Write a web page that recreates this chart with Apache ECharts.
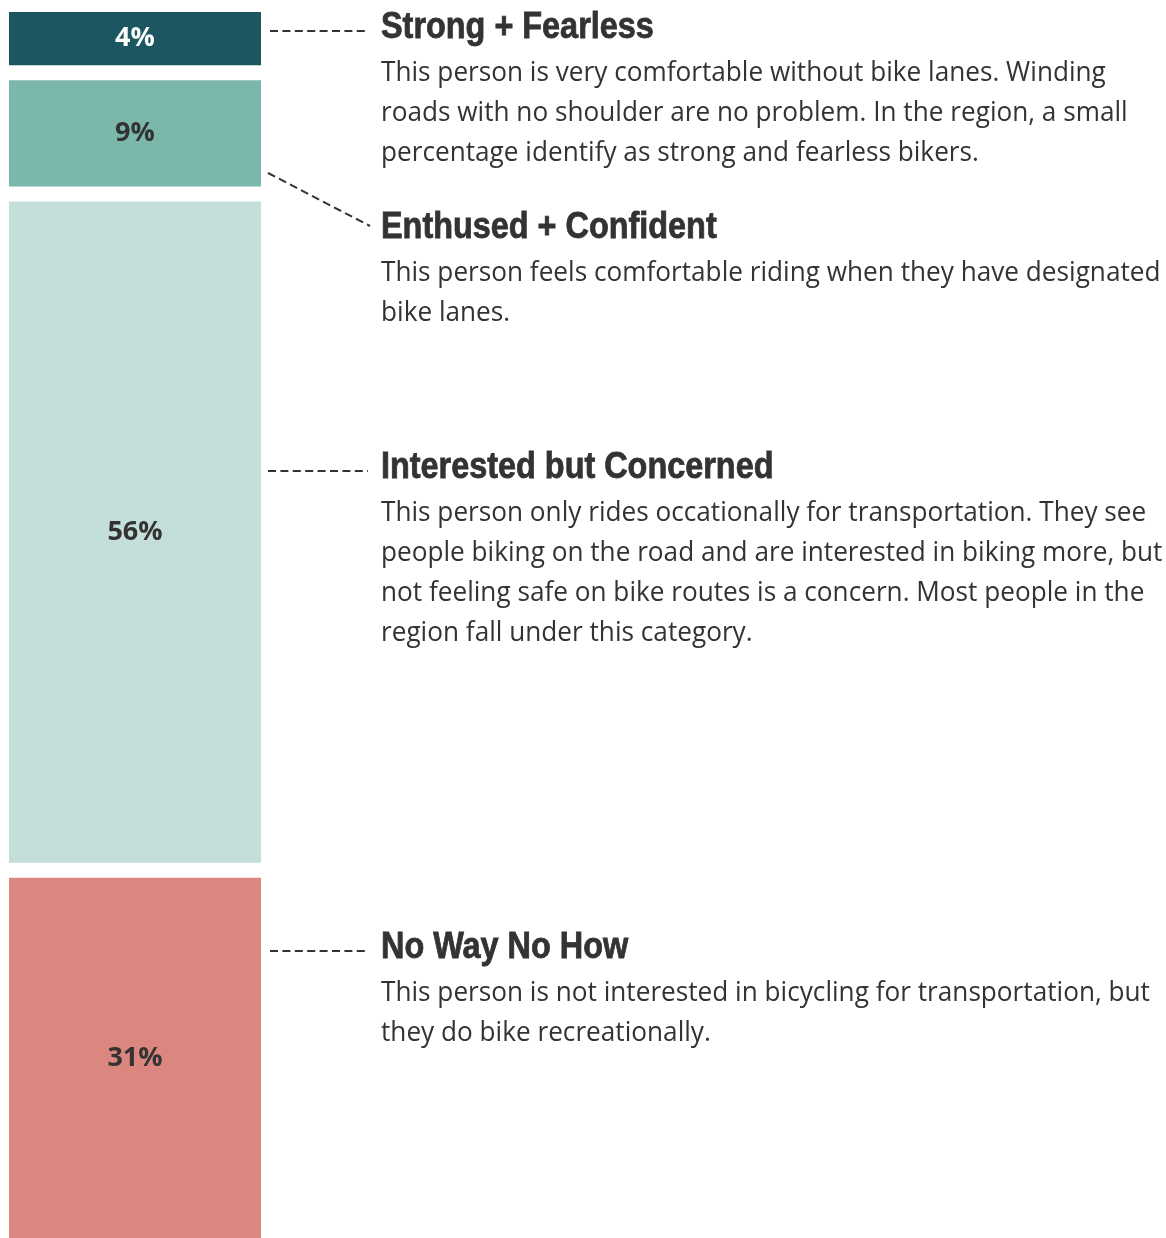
<!DOCTYPE html>
<html>
<head>
<meta charset="UTF-8">
<title>Bicyclist types</title>
<style>
  html, body { margin: 0; padding: 0; background: #fff; }
  #main { width: 1166px; height: 1238px; }
</style>
</head>
<body>
<div id="main"></div>
<script src="https://cdn.jsdelivr.net/npm/echarts@6/dist/echarts.min.js"></script>
<script>
// data
var categories = ['Strong + Fearless', 'Enthused + Confident', 'Interested but Concerned', 'No Way No How'];
var shares = [4.5, 9, 56, 30.5];
var shareLabels = ['4%', '9%', '56%', '31%'];
var descriptions = [
  'This person is very comfortable without bike lanes. Winding\nroads with no shoulder are no problem. In the region, a small\npercentage identify as strong and fearless bikers.',
  'This person feels comfortable riding when they have designated\nbike lanes.',
  'This person only rides occationally for transportation. They see\npeople biking on the road and are interested in biking more, but\nnot feeling safe on bike routes is a concern. Most people in the\nregion fall under this category.',
  'This person is not interested in bicycling for transportation, but\nthey do bike recreationally.'
];

var barColors = ['#1c5660', '#7bb7aa', '#c4dfd9', '#db877f'];
var labelColors = ['#ffffff', '#333333', '#333333', '#333333'];
var gap = 1.27; // space between segments, in axis units

// stacked segments with a gap between them
var segs = [];
var acc = 0;
for (var i = 0; i < shares.length; i++) {
  segs.push([i, acc, acc + shares[i]]);
  acc += shares[i] + gap;
}
var total = acc - gap;

// annotation layout (title y, description top y, leader line)
var notes = [
  { ty: 28, dy: 53, line: [270, 31, 368, 31] },
  { ty: 228, dy: 253, line: [268, 173, 370, 226] },
  { ty: 468, dy: 493, line: [268, 471, 368, 471] },
  { ty: 948, dy: 973, line: [270, 951, 368, 951] }
];

var graphics = [];
notes.forEach(function (n, i) {
  graphics.push({
    type: 'line',
    shape: { x1: n.line[0], y1: n.line[1], x2: n.line[2], y2: n.line[3] },
    style: { stroke: '#333', lineWidth: 2, lineDash: [8, 4.4] }
  });
  graphics.push({
    type: 'text',
    x: 381, y: n.ty, scaleX: 0.9,
    style: {
      text: categories[i],
      fill: '#333',
      stroke: '#333',
      lineWidth: 0.8,
      font: 'bold 36px "Liberation Sans", Arial, sans-serif',
      align: 'left', verticalAlign: 'middle'
    }
  });
  graphics.push({
    type: 'text',
    x: 381, y: n.dy, scaleX: 0.935,
    style: {
      text: descriptions[i],
      fill: '#333',
      font: '28px "Open Sans", sans-serif',
      lineHeight: 40,
      align: 'left', verticalAlign: 'top'
    }
  });
});

var chart = echarts.init(document.getElementById('main'));
chart.setOption({
  animation: false,
  grid: { left: 9, top: 12, width: 252, bottom: 0 },
  xAxis: { type: 'value', min: 0, max: 1, show: false },
  yAxis: { type: 'value', min: 0, max: total, inverse: true, show: false },
  series: [{
    type: 'custom',
    data: segs,
    renderItem: function (params, api) {
      var idx = params.dataIndex;
      var p0 = api.coord([0, api.value(1)]);
      var p1 = api.coord([1, api.value(2)]);
      return {
        type: 'rect',
        shape: { x: p0[0], y: p0[1], width: p1[0] - p0[0], height: p1[1] - p0[1] },
        style: { fill: barColors[idx] },
        textContent: {
          style: {
            text: shareLabels[idx],
            fill: labelColors[idx],
            font: 'bold 27px "Open Sans", sans-serif'
          }
        },
        textConfig: { position: 'inside' }
      };
    }
  }],
  graphic: graphics
});
</script>
</body>
</html>
